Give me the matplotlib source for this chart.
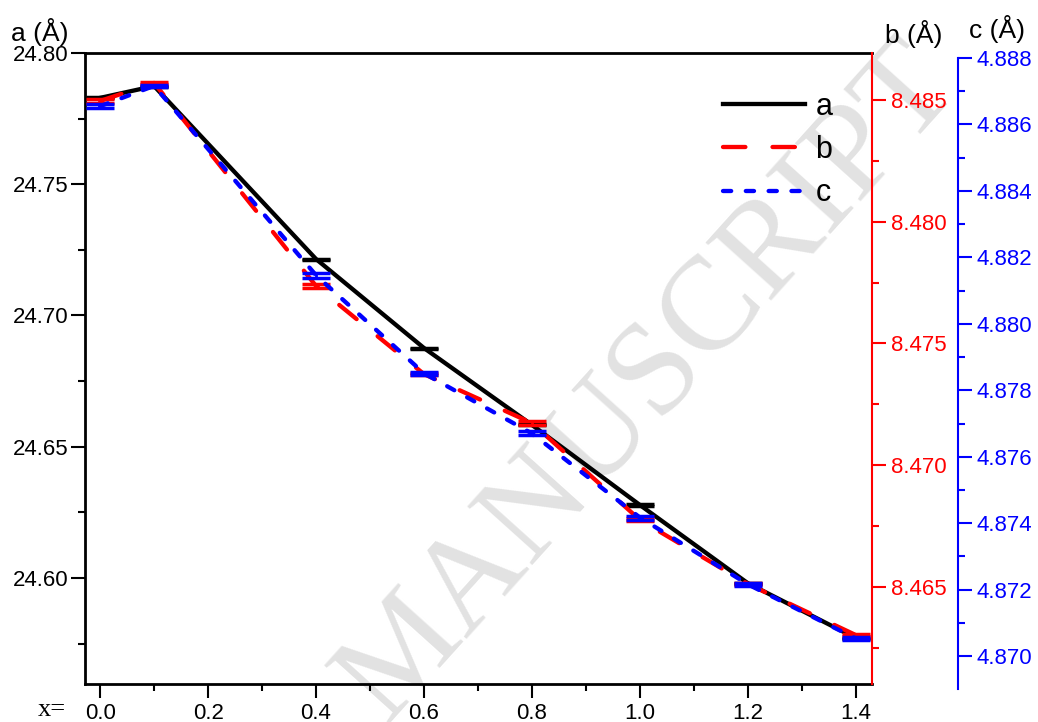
import matplotlib.pyplot as plt
from matplotlib.ticker import MultipleLocator
from matplotlib.lines import Line2D

# composition x and lattice parameters
x = [0.0, 0.1, 0.4, 0.6, 0.8, 1.0, 1.2, 1.4]
a_vals = [24.7829, 24.7874, 24.7215, 24.6876, 24.6583, 24.6278, 24.5980, 24.5771]
a_err = [0.0002, 0.0002, 0.0002, 0.0002, 0.0002, 0.0002, 0.0002, 0.0002]
b_vals = [8.48496, 8.48570, 8.47736, 8.47374, 8.47173, 8.46775, 8.46512, 8.46302]
b_err = [0.00008, 0.00005, 0.00008, 0.00005, 0.00008, 0.00006, 0.00005, 0.00005]
c_vals = [4.88655, 4.88716, 4.88146, 4.87851, 4.87670, 4.87417, 4.87216, 4.87053]
c_err = [0.00006, 0.00004, 0.00007, 0.00004, 0.00006, 0.00006, 0.00004, 0.00005]

plt.rcParams['font.family'] = ['Liberation Sans', 'DejaVu Sans']

fig = plt.figure(figsize=(10.38, 7.22), dpi=100)
ax = fig.add_axes([0.0819, 0.0526, 0.7582, 0.874])
ax.set_facecolor('none')
ax_b = ax.twinx()
ax_c = ax.twinx()

# watermark
fig.text(0.625, 0.47, 'MANUSCRIPT', rotation=48, fontsize=96, color='#e2e2e2',
         family='Liberation Serif', ha='center', va='center', zorder=-1)

lw = 3.1
dash_b = (5.2, 6.3)
dash_c = (1.9, 3.4)
ax.plot(x, a_vals, color='black', lw=lw)
ax.errorbar(x, a_vals, yerr=a_err, fmt='none', ecolor='black', elinewidth=2,
            capsize=10, capthick=2.5)
ax_b.plot(x, b_vals, color='red', lw=lw, dashes=dash_b, dash_capstyle='round')
ax_b.errorbar(x, b_vals, yerr=b_err, fmt='none', ecolor='red', elinewidth=2,
              capsize=10, capthick=2.5)
ax_c.plot(x, c_vals, color='blue', lw=lw, dashes=dash_c, dash_capstyle='round')
ax_c.errorbar(x, c_vals, yerr=c_err, fmt='none', ecolor='blue', elinewidth=2,
              capsize=10, capthick=2.5)

ax.set_xlim(-0.028, 1.43)
ax.set_ylim(24.5596, 24.80)
ax_b.set_ylim(8.46101, 8.48693)
ax_c.set_ylim(4.86916, 4.88815)

ax.xaxis.set_major_locator(MultipleLocator(0.2))
ax.xaxis.set_minor_locator(MultipleLocator(0.1))
ax.yaxis.set_major_locator(MultipleLocator(0.05))
ax.yaxis.set_minor_locator(MultipleLocator(0.025))
ax.xaxis.set_major_formatter(lambda v, p: f'{v:.1f}')
ax.yaxis.set_major_formatter(lambda v, p: f'{v:.2f}')
ax_b.yaxis.set_major_locator(MultipleLocator(0.005))
ax_b.yaxis.set_minor_locator(MultipleLocator(0.0025))
ax_b.yaxis.set_major_formatter(lambda v, p: f'{v:.3f}')
ax_c.yaxis.set_major_locator(MultipleLocator(0.002))
ax_c.yaxis.set_minor_locator(MultipleLocator(0.001))
ax_c.yaxis.set_major_formatter(lambda v, p: f'{v:.3f}')

for s in ['left', 'bottom', 'top']:
    ax.spines[s].set_linewidth(2)
ax.spines['right'].set_visible(False)
ax_b.spines['right'].set_color('red')
ax_b.spines['right'].set_linewidth(1.5)
for s in ['left', 'top', 'bottom']:
    ax_b.spines[s].set_visible(False)
    ax_c.spines[s].set_visible(False)
ax_c.spines['right'].set_position(('axes', 1.109))
ax_c.spines['right'].set_color('blue')
ax_c.spines['right'].set_linewidth(1.5)
ax_c.spines['right'].set_bounds(4.869, 4.888)

ax.tick_params(axis='both', which='major', direction='out', length=10, width=1.5,
               labelsize=16, top=False, right=False)
ax.tick_params(axis='y', which='major', pad=2)
ax.tick_params(axis='both', which='minor', direction='out', length=5, width=1.5,
               top=False, right=False)
ax_b.tick_params(axis='y', which='major', direction='out', length=10, width=1.5,
                 labelsize=16, colors='red')
ax_b.tick_params(axis='y', which='minor', direction='out', length=5, width=1.5,
                 colors='red')
ax_c.tick_params(axis='y', which='major', direction='out', length=10, width=1.5,
                 labelsize=16, colors='blue')
ax_c.tick_params(axis='y', which='minor', direction='out', length=5, width=1.5,
                 colors='blue')

fig.text(0.011, 0.955, 'a (Å)', fontsize=19, ha='left', va='center')
fig.text(0.853, 0.953, 'b (Å)', fontsize=19, ha='left', va='center')
fig.text(0.934, 0.96, 'c (Å)', fontsize=19, ha='left', va='center')
fig.text(0.036, 0.017, 'x=', fontsize=19, family='Liberation Serif',
         ha='left', va='center')

handles = [Line2D([], [], color='black', lw=lw),
           Line2D([], [], color='red', lw=lw, dashes=dash_b, dash_capstyle='round'),
           Line2D([], [], color='blue', lw=lw, dashes=dash_c, dash_capstyle='round')]
ax_c.legend(handles, ['a', 'b', 'c'], loc='center',
            bbox_to_anchor=(0.749, 0.792), bbox_transform=fig.transFigure,
            frameon=False, fontsize=22, handlelength=2.7, handletextpad=0.33,
            labelspacing=0.43)

fig.savefig('out.png', dpi=100)
